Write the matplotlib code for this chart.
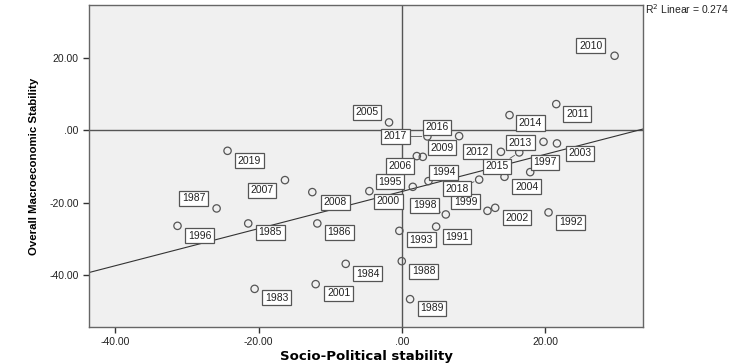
import numpy as np
import matplotlib
matplotlib.use("Agg")
import matplotlib.pyplot as plt

plt.rcParams['font.family'] = ['Liberation Sans', 'DejaVu Sans']

# data
years = [1983, 1984, 1985, 1986, 1987, 1988, 1989, 1991, 1992, 1993,
         1994, 1995, 1996, 1997, 1998, 1999, 2000, 2001, 2002, 2003,
         2004, 2005, 2006, 2007, 2008, 2009, 2010, 2011, 2012, 2013,
         2014, 2015, 2016, 2017, 2018, 2019]
socio_political = [-20.56, -7.83, -21.45, -11.80, -25.87, 0.00, 1.16, 4.80, 20.50, -0.34,
                   3.72, 1.54, -31.33, 17.94, 6.15, 11.97, -4.53, -12.03, 13.05, 21.68,
                   14.35, -1.78, 2.10, -16.32, -12.50, 2.94, 29.73, 21.58, 13.85, 19.80,
                   15.05, 16.41, 8.01, 3.58, 10.81, -24.34]
macro_stability = [-43.78, -36.88, -25.74, -25.74, -21.60, -36.14, -46.62, -26.62, -22.70, -27.78,
                   -14.07, -15.64, -26.40, -11.59, -23.26, -22.26, -16.83, -42.48, -21.43, -3.67,
                   -12.88, 2.12, -7.17, -13.79, -17.10, -7.37, 20.50, 7.17, -5.99, -3.23,
                   4.14, -6.15, -1.66, -1.74, -13.66, -5.71]
r2_text = "R$^2$ Linear = 0.274"

# label offsets in pixels (right, down) from each point
label_offsets = {
    1983: (22, 9), 1984: (22, 10), 1985: (22, 9), 1986: (22, 9), 1987: (-23, -10),
    1988: (22, 10), 1989: (22, 9), 1991: (21, 10), 1992: (22, 10), 1993: (22, 9),
    1994: (15, -9), 1995: (-23, -5), 1996: (22, 10), 1997: (15, -10), 1998: (-21, -9),
    1999: (-22, -9), 2000: (19, 10), 2001: (23, 9), 2002: (22, 10), 2003: (23, 10),
    2004: (22, 10), 2005: (-22, -10), 2006: (-17, 10), 2007: (-23, 10), 2008: (23, 10),
    2009: (19, -9), 2010: (-24, -10), 2011: (21, 10), 2012: (-24, 0), 2013: (-23, 1),
    2014: (21, 8), 2015: (-22, 14), 2016: (-22, -9), 2017: (-32, 0), 2018: (-22, 9),
    2019: (22, 10),
}
leader_years = {2017, 2015, 1998, 2018}

fig = plt.figure(figsize=(7.42, 3.64), dpi=100)
ax = fig.add_axes([0.1199, 0.1016, 0.7467, 0.8847])
ax.set_facecolor('#f0f0f0')

xlim = (-43.7, 33.7)
ylim = (-54.3, 34.5)
ax.set_xlim(*xlim)
ax.set_ylim(*ylim)

# reference lines at zero
ax.axhline(0, color='#555555', lw=1.0, zorder=1)
ax.axvline(0, color='#555555', lw=1.0, zorder=1)

# linear fit
slope, intercept = np.polyfit(socio_political, macro_stability, 1)
xs = np.array(xlim)
ax.plot(xs, slope * xs + intercept, color='#333333', lw=0.8, zorder=2)

ax.scatter(socio_political, macro_stability, s=28, facecolors='none',
           edgecolors='#555555', linewidths=0.9, zorder=3)

for yr, x, y in zip(years, socio_political, macro_stability):
    dx, dy = label_offsets[yr]
    arrow = dict(arrowstyle='-', color='#555555', lw=0.6, shrinkA=0, shrinkB=4) if yr in leader_years else None
    ax.annotate(str(yr), (x, y), xytext=(dx, -dy), textcoords='offset pixels',
                ha='center', va='center', fontsize=7.5, color='#222222',
                bbox=dict(boxstyle='square,pad=0.25', fc='white', ec='#555555', lw=0.9),
                arrowprops=arrow, zorder=4)

def fmt(v):
    s = f"{v:.2f}"
    return s.replace("0.00", ".00") if v == 0 else s

xticks = [-40, -20, 0, 20]
yticks = [-40, -20, 0, 20]
ax.set_xticks(xticks)
ax.set_xticklabels([fmt(v) for v in xticks])
ax.set_yticks(yticks)
ax.set_yticklabels([fmt(v) for v in yticks])
ax.tick_params(direction='out', length=4, width=1, colors='#333333', labelsize=7.5, labelcolor='#222222')

for sp in ax.spines.values():
    sp.set_color('#666666')
    sp.set_linewidth(1.0)

ax.set_xlabel("Socio-Political stability", fontsize=9.5, fontweight='bold',
              family=['DejaVu Sans'], labelpad=2)
ax.set_ylabel("Overall Macroeconomic Stability", fontsize=8.2, fontweight='bold',
              family=['Liberation Sans Narrow', 'Liberation Sans'], labelpad=7)

fig.text(645 / 742, 1 - 9 / 364, r2_text, fontsize=7.5, ha='left', va='center', color='#222222')

fig.savefig("out.png", dpi=100)
